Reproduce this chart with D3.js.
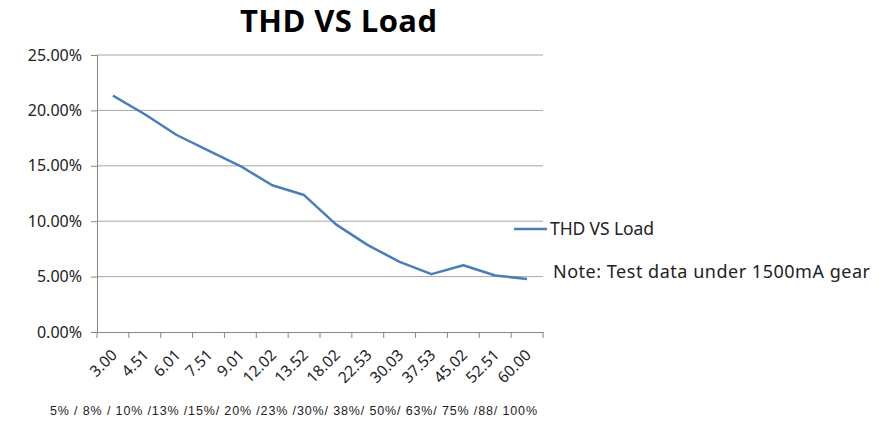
<!DOCTYPE html>
<html>
<head>
<meta charset="utf-8">
<script src="https://cdn.jsdelivr.net/npm/d3@7"></script>
<style>
  body { margin: 0; background: #fff; }
  svg { display: block; }
</style>
</head>
<body>
<svg width="890" height="421"></svg>
<script>
var categories = ["3.00", "4.51", "6.01", "7.51", "9.01", "12.02", "13.52", "18.02", "22.53", "30.03", "37.53", "45.02", "52.51", "60.00"];
var thdValues = [0.2134, 0.1965, 0.1778, 0.1637, 0.1498, 0.1324, 0.1236, 0.0971, 0.0784, 0.0633, 0.0522, 0.0603, 0.0510, 0.0479];
var yTicks = [0, 0.05, 0.10, 0.15, 0.20, 0.25];
var loadNote = "5% / 8% / 10% /13% /15%/ 20% /23% /30%/ 38%/ 50%/ 63%/ 75% /88/ 100%";

var font = "'Noto Sans', 'Liberation Sans', sans-serif";
var svg = d3.select("svg"),
    margin = {top: 55, left: 97},
    width = 446,
    height = 277,
    g = svg.append("g").attr("transform", "translate(" + margin.left + "," + margin.top + ")");

var x = d3.scaleBand().domain(categories).range([0, width]);
var y = d3.scaleLinear().domain([0, 0.25]).range([height, 0]);

// gridlines
g.selectAll(".grid")
    .data(yTicks.slice(1))
    .enter().append("line")
    .attr("x1", 0).attr("x2", width)
    .attr("y1", d => y(d)).attr("y2", d => y(d))
    .attr("stroke", "#a6a6a6").attr("stroke-width", 1);

// y axis
var yAxis = g.append("g")
    .call(d3.axisLeft(y).tickValues(yTicks).tickFormat(d3.format(".2%")).tickSize(6).tickPadding(9));
yAxis.select(".domain").attr("stroke", "#868686");
yAxis.selectAll(".tick line").attr("stroke", "#868686");
yAxis.selectAll("text").attr("font-family", font).attr("font-size", 16).attr("fill", "#222");

// x axis
var xAxis = g.append("g")
    .attr("transform", "translate(0," + height + ")")
    .call(d3.axisBottom(x).tickSize(0).tickPadding(0));
xAxis.select(".domain").attr("stroke", "#868686");
xAxis.selectAll(".tick line").remove();
xAxis.selectAll(".tick text")
    .attr("font-family", font).attr("font-size", 15.5).attr("fill", "#222")
    .attr("text-anchor", "end")
    .attr("dy", 0)
    .attr("transform", "translate(5,24) rotate(-45)");

// band boundary ticks
g.selectAll(".xtick")
    .data(categories.concat(["end"]))
    .enter().append("line")
    .attr("x1", (d, i) => i * x.bandwidth()).attr("x2", (d, i) => i * x.bandwidth())
    .attr("y1", height).attr("y2", height + 6)
    .attr("stroke", "#868686");

// line
var line = d3.line()
    .x((d, i) => x(categories[i]) + x.bandwidth() / 2)
    .y(d => y(d));
g.append("path")
    .datum(thdValues)
    .attr("d", line)
    .attr("fill", "none")
    .attr("stroke", "#4a7ebb")
    .attr("stroke-width", 2.5)
    .attr("stroke-linejoin", "round");

// title
svg.append("text")
    .attr("x", 338.5).attr("y", 32)
    .attr("text-anchor", "middle")
    .attr("font-family", "'Open Sans', 'Liberation Sans', sans-serif")
    .attr("font-weight", "bold")
    .attr("font-size", 31)
    .attr("textLength", 197)
    .attr("fill", "#000")
    .text("THD VS Load");

// legend
svg.append("line")
    .attr("x1", 514).attr("x2", 547).attr("y1", 229).attr("y2", 229)
    .attr("stroke", "#4a7ebb").attr("stroke-width", 2.5);
svg.append("text")
    .attr("x", 550).attr("y", 235)
    .attr("font-family", font).attr("font-size", 17.5).attr("fill", "#222")
    .attr("textLength", 104)
    .text("THD VS Load");

svg.append("text")
    .attr("x", 553).attr("y", 278)
    .attr("font-family", font).attr("font-size", 18).attr("fill", "#222")
    .attr("textLength", 317)
    .text("Note: Test data under 1500mA gear");

svg.append("text")
    .attr("x", 50).attr("y", 415)
    .attr("font-family", "'Liberation Sans', Arial, sans-serif").attr("font-size", 12.5).attr("fill", "#222")
    .attr("textLength", 487)
    .text(loadNote);
</script>
</body>
</html>
